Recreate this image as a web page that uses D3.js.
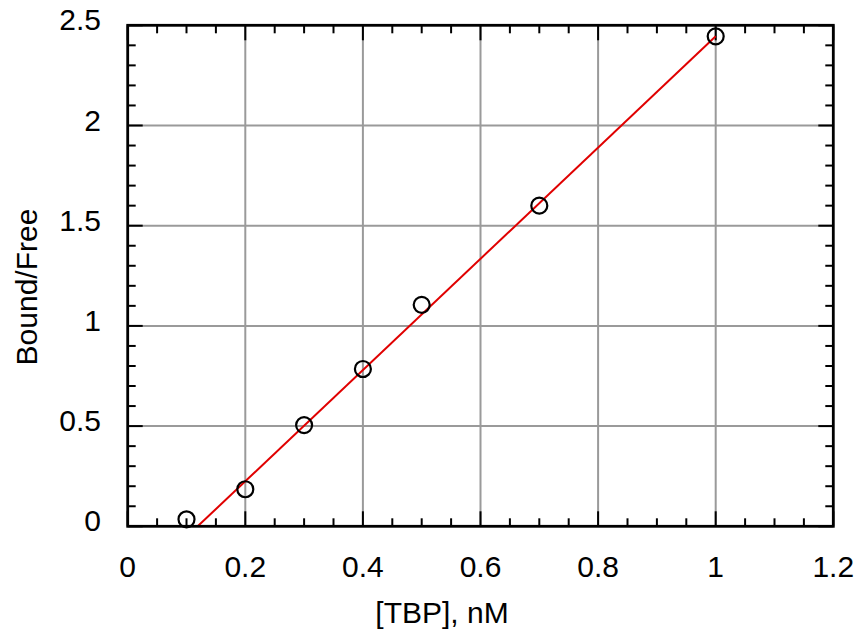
<!DOCTYPE html>
<html><head><meta charset="utf-8">
<script src="https://cdn.jsdelivr.net/npm/d3@7"></script>
<style>body{margin:0;background:#fff}svg{display:block}text{font-family:"Liberation Sans",Arial,sans-serif;fill:#000}</style>
</head><body><svg id="c" width="860" height="631"></svg>
<script>
const xValues = [0.1, 0.2, 0.3, 0.4, 0.5, 0.7, 1.0];
const yValues = [0.035, 0.185, 0.505, 0.785, 1.105, 1.6, 2.445];
const fitX = [0.119, 1.0];
const fitY = [0.0, 2.445];
const xTicks = [0, 0.2, 0.4, 0.6, 0.8, 1, 1.2];
const yTicks = [0, 0.5, 1, 1.5, 2, 2.5];
const xMinor = d3.range(0, 1.2001, 0.05);
const yMinor = d3.range(0, 2.5001, 0.1);
const xLabel = "[TBP], nM";
const yLabel = "Bound/Free";

const svg = d3.select("#c");
const L = 127.7, R = 833.3, T = 25.3, B = 526.3;
const x = d3.scaleLinear().domain([0, 1.2]).range([L, R]);
const y = d3.scaleLinear().domain([0, 2.5]).range([B, T]);

// grid
svg.append("g").selectAll("line").data(xTicks.slice(1, -1)).join("line")
  .attr("x1", d => x(d)).attr("x2", d => x(d)).attr("y1", T).attr("y2", B)
  .attr("stroke", "#9a9a9a").attr("stroke-width", 2);
svg.append("g").selectAll("line").data(yTicks.slice(1, -1)).join("line")
  .attr("y1", d => y(d)).attr("y2", d => y(d)).attr("x1", L).attr("x2", R)
  .attr("stroke", "#9a9a9a").attr("stroke-width", 2);

// ticks
const tk = svg.append("g").attr("stroke", "#000").attr("stroke-width", 2);
const isMajorX = d => xTicks.some(t => Math.abs(t - d) < 1e-6);
const isMajorY = d => yTicks.some(t => Math.abs(t - d) < 1e-6);
xMinor.forEach(d => {
  const len = isMajorX(d) ? 15 : 8;
  tk.append("line").attr("x1", x(d)).attr("x2", x(d)).attr("y1", B).attr("y2", B - len);
  tk.append("line").attr("x1", x(d)).attr("x2", x(d)).attr("y1", T).attr("y2", T + len);
});
yMinor.forEach(d => {
  const len = isMajorY(d) ? 15 : 8;
  tk.append("line").attr("y1", y(d)).attr("y2", y(d)).attr("x1", L).attr("x2", L + len);
  tk.append("line").attr("y1", y(d)).attr("y2", y(d)).attr("x1", R).attr("x2", R - len);
});

// fit line
svg.append("path").datum(fitX.map((d, i) => [d, fitY[i]]))
  .attr("d", d3.line().x(d => x(d[0])).y(d => y(d[1])))
  .attr("stroke", "#e00000").attr("stroke-width", 2).attr("fill", "none");

// points
svg.append("g").selectAll("circle").data(xValues.map((d, i) => [d, yValues[i]])).join("circle")
  .attr("cx", d => x(d[0])).attr("cy", d => y(d[1])).attr("r", 8)
  .attr("fill", "none").attr("stroke", "#000").attr("stroke-width", 2.2);

// frame
svg.append("rect").attr("x", L).attr("y", T).attr("width", R - L).attr("height", B - T)
  .attr("fill", "none").attr("stroke", "#000").attr("stroke-width", 2.8);

// tick labels
svg.append("g").selectAll("text").data(xTicks).join("text")
  .attr("x", d => x(d)).attr("y", 577).attr("text-anchor", "middle")
  .attr("font-size", 30).text(d => d3.format("")(d));
svg.append("g").selectAll("text").data(yTicks).join("text")
  .attr("x", 101).attr("y", d => y(d) + 5).attr("text-anchor", "end")
  .attr("font-size", 30).text(d => d3.format("")(d));

// axis titles
svg.append("text").attr("x", 442).attr("y", 623).attr("text-anchor", "middle")
  .attr("font-size", 30).text(xLabel);
svg.append("text").attr("transform", "translate(37,287) rotate(-90)")
  .attr("text-anchor", "middle").attr("font-size", 30).text(yLabel);
</script></body></html>
